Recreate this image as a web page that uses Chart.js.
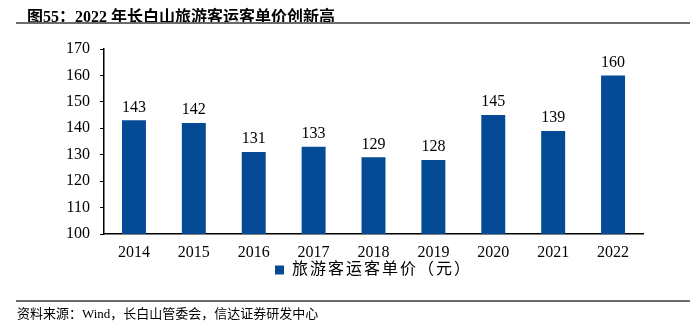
<!DOCTYPE html>
<html>
<head>
<meta charset="utf-8">
<script src="https://cdn.jsdelivr.net/npm/chart.js@4/dist/chart.umd.min.js"></script>
<style>
  html, body { margin:0; padding:0; background:#fff; }
  #wrap { position:relative; width:698px; height:328px; overflow:hidden; }
  #chart-box { position:absolute; left:0; top:0; width:698px; height:328px; }
  .title { position:absolute; left:27px; top:3px; font:bold 16px "Liberation Serif","Noto Sans CJK SC",serif; color:#000; white-space:nowrap; }
  .rule { position:absolute; left:16px; width:674px; height:2px; background:#6b6b6b; }
  .source { position:absolute; left:17px; top:303px; font:13px "Liberation Serif","Noto Sans CJK SC",serif; color:#000; white-space:nowrap; }
</style>
</head>
<body>
<div id="wrap">
  <div id="chart-box"><canvas id="c"></canvas></div>
  <div class="title">图55：2022 年长白山旅游客运客单价创新高</div>
  <div class="rule" style="top:22px;"></div>
  <div class="rule" style="top:300px;"></div>
  <div class="source">资料来源：Wind，长白山管委会，信达证券研发中心</div>
</div>
<script>
// 长白山旅游客运客单价（元）
const YEARS = ["2014","2015","2016","2017","2018","2019","2020","2021","2022"];
const PRICE = [143, 142, 131, 133, 129, 128, 145, 139, 160];
const SERIES_NAME = "旅游客运客单价（元）";
const BAR_COLOR = "#044a95";
const SERIF = '"Liberation Serif","Noto Sans CJK SC",serif';

// value labels on top of the bars
const barLabels = {
  id: "barLabels",
  afterDatasetsDraw(chart) {
    const ctx = chart.ctx;
    const meta = chart.getDatasetMeta(0);
    ctx.save();
    ctx.font = "16px " + SERIF;
    ctx.fillStyle = "#000";
    ctx.textAlign = "center";
    ctx.textBaseline = "bottom";
    meta.data.forEach((bar, i) => {
      ctx.fillText(String(PRICE[i]), bar.x, bar.y - 5);
    });
    ctx.restore();
  }
};

const chart = new Chart(document.getElementById("c"), {
  type: "bar",
  data: {
    labels: YEARS,
    datasets: [{
      label: SERIES_NAME,
      data: PRICE,
      backgroundColor: BAR_COLOR,
      borderWidth: 0,
      barPercentage: 0.4,
      categoryPercentage: 1,
    }],
  },
  options: {
    responsive: true,
    maintainAspectRatio: false,
    animation: false,
    layout: { padding: { left: 54, right: 55, top: 49, bottom: 40 } },
    plugins: {
      legend: {
        position: "bottom",
        fullSize: false,
        labels: {
          font: { family: SERIF, size: 16 },
          color: "#000",
          boxWidth: 9,
          boxHeight: 9,
          padding: 2,
        },
      },
      tooltip: { enabled: false },
    },
    scales: {
      x: {
        grid: { display: false, drawTicks: false },
        border: { color: "#000", width: 1.5 },
        ticks: { font: { family: SERIF, size: 16 }, color: "#000", padding: 9 },
        afterFit(s) { s.height = 26; },
      },
      y: {
        min: 100,
        max: 170,
        ticks: { stepSize: 10, font: { family: SERIF, size: 16 }, color: "#000", padding: 10 },
        grid: { drawOnChartArea: false, drawTicks: true, tickLength: 4, color: "#000" },
        border: { color: "#000", width: 1.5 },
        afterFit(s) { s.width = 50; },
      },
    },
  },
  plugins: [barLabels],
});

// the legend text in the original is spaced out a little
const lg = chart.legend;
for (const fn of ["fit", "draw"]) {
  const orig = lg[fn].bind(lg);
  lg[fn] = function () {
    chart.ctx.save();
    chart.ctx.letterSpacing = "2px";
    orig();
    chart.ctx.restore();
  };
}
chart.update();
</script>
</body>
</html>
